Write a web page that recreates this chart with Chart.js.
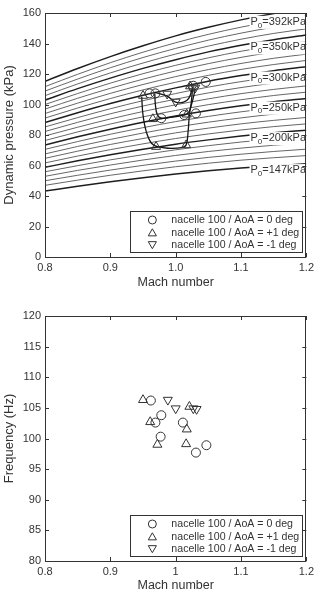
<!DOCTYPE html>
<html><head><meta charset="utf-8">
<script src="https://cdn.jsdelivr.net/npm/chart.js@4/dist/chart.umd.min.js"></script>
<style>
html,body{margin:0;padding:0;background:#fff;}
canvas{display:block;}
</style></head>
<body>
<canvas id="c1" width="318" height="300"></canvas>
<canvas id="c2" width="318" height="301"></canvas>
<script>
// ---------- data ----------
const machGrid = [0.8, 0.85, 0.9, 0.95, 1.0, 1.05, 1.1, 1.15, 1.2];
const labelMach = 1.1;
// dynamic pressure (kPa) along constant total pressure lines
const q147 = [43.2, 46.4, 49.3, 52.0, 54.4, 56.5, 58.3, 59.9, 61.1];
const q160 = [47.0, 50.4, 53.6, 56.5, 59.2, 61.5, 63.5, 65.1, 66.5];
const q170 = [50.0, 53.6, 57.0, 60.1, 62.9, 65.3, 67.4, 69.2, 70.7];
const q180 = [52.9, 56.8, 60.3, 63.6, 66.6, 69.2, 71.4, 73.3, 74.8];
const q190 = [55.9, 59.9, 63.7, 67.1, 70.3, 73.0, 75.4, 77.4, 79.0];
const q200 = [58.8, 63.1, 67.1, 70.7, 74.0, 76.8, 79.3, 81.4, 83.1];
const q210 = [61.7, 66.2, 70.4, 74.2, 77.7, 80.7, 83.3, 85.5, 87.3];
const q220 = [64.7, 69.4, 73.8, 77.7, 81.4, 84.5, 87.3, 89.6, 91.5];
const q230 = [67.6, 72.5, 77.1, 81.3, 85.1, 88.4, 91.2, 93.7, 95.6];
const q240 = [70.6, 75.7, 80.5, 84.8, 88.8, 92.2, 95.2, 97.7, 99.8];
const q250 = [73.5, 78.8, 83.8, 88.4, 92.5, 96.1, 99.2, 101.8, 103.9];
const q260 = [76.4, 82.0, 87.2, 91.9, 96.1, 99.9, 103.1, 105.9, 108.1];
const q270 = [79.4, 85.1, 90.5, 95.4, 99.8, 103.7, 107.1, 109.9, 112.2];
const q280 = [82.3, 88.3, 93.9, 99.0, 103.5, 107.6, 111.1, 114.0, 116.4];
const q290 = [85.3, 91.4, 97.2, 102.5, 107.2, 111.4, 115.0, 118.1, 120.6];
const q300 = [88.2, 94.6, 100.6, 106.0, 110.9, 115.3, 119.0, 122.2, 124.7];
const q310 = [91.1, 97.7, 103.9, 109.6, 114.6, 119.1, 123.0, 126.2, 128.9];
const q320 = [94.1, 100.9, 107.3, 113.1, 118.3, 122.9, 126.9, 130.3, 133.0];
const q330 = [97.0, 104.1, 110.6, 116.6, 122.0, 126.8, 130.9, 134.4, 137.2];
const q340 = [100.0, 107.2, 114.0, 120.2, 125.7, 130.6, 134.9, 138.4, 141.3];
const q350 = [102.9, 110.4, 117.3, 123.7, 129.4, 134.5, 138.8, 142.5, 145.5];
const q360 = [105.8, 113.5, 120.7, 127.2, 133.1, 138.3, 142.8, 146.6, 149.6];
const q370 = [108.8, 116.7, 124.1, 130.8, 136.8, 142.2, 146.8, 150.7, 153.8];
const q380 = [111.7, 119.8, 127.4, 134.3, 140.5, 146.0, 150.7, 154.7, 158.0];
const q392 = [115.2, 123.6, 131.4, 138.5, 145.0, 150.6, 155.5, 159.6, 163.0];
const p0Values = [147,160,170,180,190,200,210,220,230,240,250,260,270,280,290,300,310,320,330,340,350,360,370,380,392];
const p0Curves = [q147,q160,q170,q180,q190,q200,q210,q220,q230,q240,q250,q260,q270,q280,q290,q300,q310,q320,q330,q340,q350,q360,q370,q380,q392];
const p0Labelled = [147, 200, 250, 300, 350, 392];

// test paths
const pathOuterMach = [0.948, 0.950, 0.955, 0.963, 0.973, 0.988, 1.009, 1.016, 1.019, 1.021, 1.024, 1.026];
const pathOuterQ    = [105.1, 93.1, 82.2, 74.6, 72.3, 71.3, 71.7, 73.4, 82.2, 93.1, 101.8, 111.7];
const pathInnerMach = [0.968, 0.969, 0.972, 0.978, 0.988, 1.009, 1.019, 1.024, 1.030];
const pathInnerQ    = [107.3, 99.7, 93.1, 91.0, 91.3, 92.7, 94.2, 99.7, 110.0];
const pathUpperMach = [0.968, 0.987, 1.000, 1.012, 1.020, 1.026];
const pathUpperQ    = [108.0, 105.5, 101.5, 101.5, 104.0, 111.0];

// markers, top plot (Mach, dynamic pressure)
const aoa0MachQ = [0.960, 0.969, 0.978, 1.013, 1.027, 1.031, 1.046];
const aoa0Q     = [107.3, 107.3, 91.0, 93.1, 112.3, 94.2, 114.8];
const aoaP1MachQ = [0.950, 0.965, 0.970, 1.016, 1.017, 1.022];
const aoaP1Q     = [105.8, 90.5, 72.3, 73.4, 93.5, 112.0];
const aoaM1MachQ = [0.987, 1.000, 1.025, 1.030];
const aoaM1Q     = [107.0, 101.8, 110.5, 111.0];

// markers, bottom plot (Mach, frequency)
const aoa0MachF = [0.962, 0.969, 0.978, 0.977, 1.011, 1.031, 1.047];
const aoa0Freq  = [106.2, 102.6, 103.8, 100.3, 102.6, 97.7, 98.9];
const aoaP1MachF = [0.950, 0.961, 0.972, 1.016, 1.017, 1.021];
const aoaP1Freq  = [106.3, 102.7, 99.0, 99.1, 101.5, 105.2];
const aoaM1MachF = [0.988, 1.000, 1.027, 1.032];
const aoaM1Freq  = [106.3, 104.9, 104.9, 104.8];

const seriesLabels = ['nacelle 100 / AoA = 0 deg', 'nacelle 100 / AoA = +1 deg', 'nacelle 100 / AoA = -1 deg'];
const xTickValues = [0.8, 0.9, 1.0, 1.1, 1.2];
const xTickLabelsTop = ['0.8', '0.9', '1.0', '1.1', '1.2'];
const xTickLabelsBottom = ['0.8', '0.9', '1', '1.1', '1.2'];
const yTickValuesTop = [0, 20, 40, 60, 80, 100, 120, 140, 160];
const yTickValuesBottom = [80, 85, 90, 95, 100, 105, 110, 115, 120];

// ---------- styling ----------
const FONT = "'Liberation Sans', Arial, Helvetica, sans-serif";
const INK = '#333';
const pairs = (xs, ys) => xs.map((x, i) => ({x: x, y: ys[i]}));

const markerStyles = [
  {pointStyle: 'circle', pointRadius: 4.5, rotation: 0},
  {pointStyle: 'triangle', pointRadius: 5.2, rotation: 0},
  {pointStyle: 'triangle', pointRadius: 5.2, rotation: 180}
];
function markerDataset(label, data, k) {
  const s = markerStyles[k];
  return {
    type: 'scatter', label: label, data: data, order: 0, isMarker: true, markerIndex: k,
    pointStyle: s.pointStyle, pointRadius: s.pointRadius, pointRotation: s.rotation,
    pointBorderColor: INK, pointBackgroundColor: 'rgba(0,0,0,0)', pointBorderWidth: 1,
    pointHoverRadius: s.pointRadius, showLine: false
  };
}

function frameTicksPlugin() {
  return {
    id: 'frameTicks',
    afterDatasetsDraw(chart) {
      const ctx = chart.ctx, a = chart.chartArea;
      const xs = chart.scales.x, ys = chart.scales.y;
      ctx.save();
      ctx.strokeStyle = INK; ctx.lineWidth = 1;
      ctx.strokeRect(Math.round(a.left) + 0.5, Math.round(a.top) + 0.5, Math.round(a.right - a.left) - 1, Math.round(a.bottom - a.top));
      const L = 4;
      ctx.beginPath();
      xs.ticks.forEach(t => {
        const p = Math.round(xs.getPixelForValue(t.value)) + 0.5;
        ctx.moveTo(p, a.bottom); ctx.lineTo(p, a.bottom - L);
        ctx.moveTo(p, a.top); ctx.lineTo(p, a.top + L);
      });
      ys.ticks.forEach(t => {
        const p = Math.round(ys.getPixelForValue(t.value)) + 0.5;
        ctx.moveTo(a.left, p); ctx.lineTo(a.left + L, p);
        ctx.moveTo(a.right, p); ctx.lineTo(a.right - L, p);
      });
      ctx.stroke();
      ctx.restore();
    }
  };
}

function legendPlugin() {
  return {
    id: 'boxLegend',
    afterDraw(chart) {
      const ctx = chart.ctx, a = chart.chartArea;
      const items = chart.data.datasets.filter(d => d.isMarker);
      const w = 172, h = 41;
      const x0 = a.right - 4 - w, y0 = a.bottom - 5 - h;
      ctx.save();
      ctx.fillStyle = '#fff';
      ctx.fillRect(x0, y0, w, h);
      ctx.strokeStyle = INK; ctx.lineWidth = 1;
      ctx.strokeRect(Math.round(x0) + 0.5, Math.round(y0) + 0.5, w, h);
      ctx.font = '10.6px ' + FONT;
      ctx.textBaseline = 'middle';
      ctx.textAlign = 'left';
      items.forEach((d, i) => {
        const cy = y0 + 9 + i * 12.5;
        const s = markerStyles[d.markerIndex];
        ctx.strokeStyle = INK; ctx.fillStyle = 'rgba(0,0,0,0)'; ctx.lineWidth = 1;
        Chart.helpers.drawPoint(ctx, {pointStyle: s.pointStyle, radius: s.pointRadius - 0.5, rotation: s.rotation, borderWidth: 1}, x0 + 22, cy + (s.pointStyle === 'triangle' ? (s.rotation ? -1 : 1) : 0));
        ctx.fillStyle = INK;
        ctx.fillText(d.label, x0 + 41, cy + 0.5);
      });
      ctx.restore();
    }
  };
}

const p0LabelPlugin = {
  id: 'p0Labels',
  afterDatasetsDraw(chart) {
    const ctx = chart.ctx, a = chart.chartArea;
    const idx = machGrid.indexOf(labelMach);
    ctx.save();
    chart.data.datasets.forEach((d, di) => {
      if (!d.p0Label) return;
      const el = chart.getDatasetMeta(di).data[idx];
      const tx = el.x + 9.5, cy = el.y + 2;
      ctx.fillStyle = '#fff';
      ctx.fillRect(tx - 1, cy - 6, a.right - tx, 13);
      ctx.fillStyle = INK;
      ctx.textBaseline = 'middle'; ctx.textAlign = 'left';
      ctx.font = '11px ' + FONT;
      ctx.fillText('P', tx, cy);
      const pw = ctx.measureText('P').width;
      ctx.font = '8px ' + FONT;
      ctx.fillText('0', tx + pw, cy + 3.5);
      const zw = ctx.measureText('0').width;
      ctx.font = '11px ' + FONT;
      ctx.fillText('=' + d.p0Label + 'kPa', tx + pw + zw, cy);
    });
    ctx.restore();
  }
};

function axisOptions(opts) {
  return {
    x: {
      type: 'linear', min: 0.8, max: 1.2,
      grid: {display: false, drawTicks: false},
      border: {display: false},
      afterBuildTicks: s => { s.ticks = xTickValues.map(v => ({value: v})); },
      afterFit: s => { s.height = opts.xHeight; },
      ticks: {padding: 4, color: INK, font: {family: FONT, size: 11}, maxRotation: 0,
              callback: (v, i) => opts.xLabels[i]},
      title: {display: true, text: 'Mach number', color: INK, font: {family: FONT, size: 12.5},
              padding: {top: 0, bottom: opts.xTitlePad}}
    },
    y: {
      type: 'linear', min: opts.yMin, max: opts.yMax,
      grid: {display: false, drawTicks: false},
      border: {display: false},
      afterBuildTicks: s => { s.ticks = opts.yTicks.map(v => ({value: v})); },
      afterFit: s => { s.width = 45; },
      ticks: {padding: 4, color: INK, font: {family: FONT, size: 11},
              callback: v => String(v)},
      title: {display: true, text: opts.yTitle, color: INK, font: {family: FONT, size: 13},
              padding: {top: 2, bottom: 0}}
    }
  };
}

const common = {
  responsive: false, devicePixelRatio: 1, animation: false,
  plugins: {legend: {display: false}, tooltip: {enabled: false}},
  events: []
};

// ---------- top chart ----------
const topDatasets = [
  markerDataset(seriesLabels[0], pairs(aoa0MachQ, aoa0Q), 0),
  markerDataset(seriesLabels[1], pairs(aoaP1MachQ, aoaP1Q), 1),
  markerDataset(seriesLabels[2], pairs(aoaM1MachQ, aoaM1Q), 2)
];
[[pathOuterMach, pathOuterQ], [pathInnerMach, pathInnerQ], [pathUpperMach, pathUpperQ]].forEach(p => {
  topDatasets.push({type: 'line', data: pairs(p[0], p[1]), order: 1, borderColor: '#151515',
    borderWidth: 1.3, pointRadius: 0, tension: 0.4, fill: false});
});
p0Curves.forEach((c, i) => {
  const thick = p0Labelled.includes(p0Values[i]);
  topDatasets.push({type: 'line', data: pairs(machGrid, c), order: 2,
    borderColor: thick ? '#1e1e1e' : '#555', borderWidth: thick ? 1.5 : 0.9,
    pointRadius: 0, cubicInterpolationMode: 'monotone', fill: false,
    p0Label: thick ? p0Values[i] : null});
});

new Chart(document.getElementById('c1'), {
  type: 'scatter',
  data: {datasets: topDatasets},
  options: Object.assign({}, common, {
    layout: {padding: {left: 0, right: 11, top: 13, bottom: 0}},
    scales: axisOptions({xHeight: 43, xTitlePad: 9.5, xLabels: xTickLabelsTop,
      yMin: 0, yMax: 160, yTicks: yTickValuesTop, yTitle: 'Dynamic pressure (kPa)'})
  }),
  plugins: [p0LabelPlugin, frameTicksPlugin(), legendPlugin()]
});

// ---------- bottom chart ----------
new Chart(document.getElementById('c2'), {
  type: 'scatter',
  data: {datasets: [
    markerDataset(seriesLabels[0], pairs(aoa0MachF, aoa0Freq), 0),
    markerDataset(seriesLabels[1], pairs(aoaP1MachF, aoaP1Freq), 1),
    markerDataset(seriesLabels[2], pairs(aoaM1MachF, aoaM1Freq), 2)
  ]},
  options: Object.assign({}, common, {
    layout: {padding: {left: 0, right: 11, top: 16, bottom: 0}},
    scales: axisOptions({xHeight: 40, xTitlePad: 7.5, xLabels: xTickLabelsBottom,
      yMin: 80, yMax: 120, yTicks: yTickValuesBottom, yTitle: 'Frequency (Hz)'})
  }),
  plugins: [frameTicksPlugin(), legendPlugin()]
});
</script>
</body></html>
